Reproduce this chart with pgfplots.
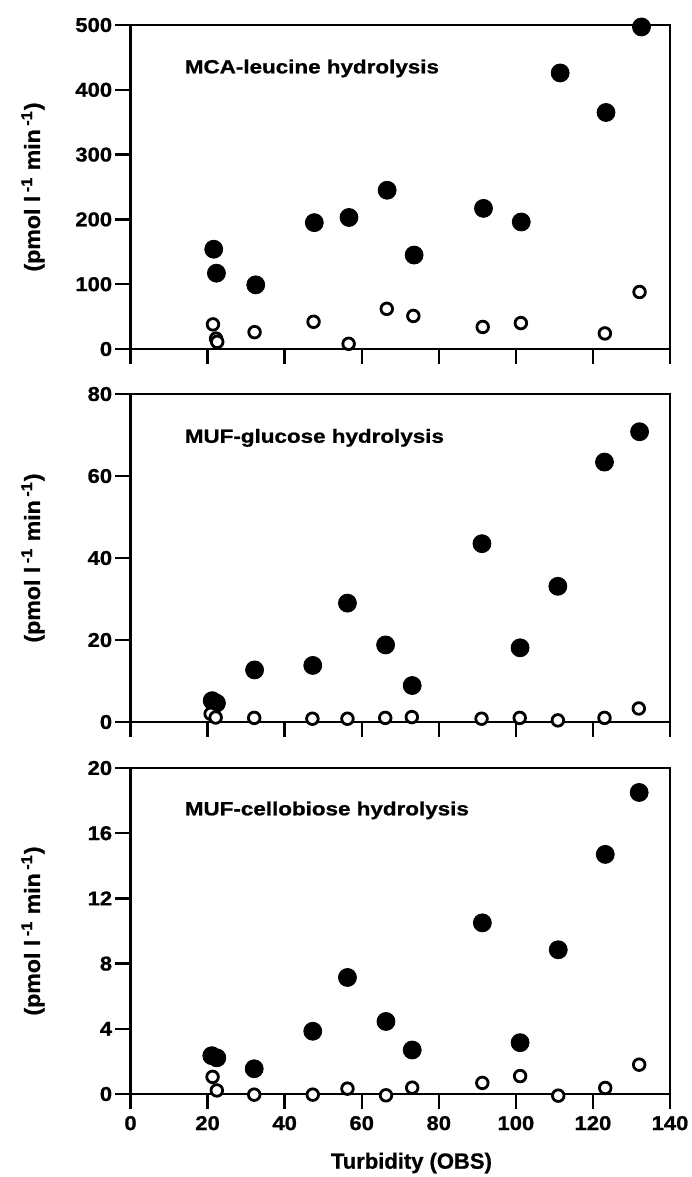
\documentclass[border=0pt]{standalone}
\usepackage{fontspec}
\setmainfont{Liberation Sans}
\newfontfamily\titlefont[FakeStretch=1.18,FakeBold=1]{Liberation Sans Bold}
\newfontfamily\tickfont[FakeStretch=1.1,FakeBold=1]{Liberation Sans Bold}
\newfontfamily\ylabfont[FakeStretch=1.05,FakeBold=0.8]{Liberation Sans Bold}
\newfontfamily\xlabfont[FakeBold=0.8]{Liberation Sans Bold}
\usepackage{pgfplots}
\pgfplotsset{compat=1.18}

\pgfplotstableread{
x y
21.6 154
22.3 117
32.5 99
47.7 195
56.7 203
66.6 245
73.6 145
91.6 217
101.4 196
111.5 426
123.4 365
132.6 497
}\leuF
\pgfplotstableread{
x y
21.4 38
22.2 16
22.5 11
32.2 26
47.5 42
56.6 8
66.5 62
73.4 51
91.4 34
101.3 40
123.1 24
132.1 88
}\leuO
\pgfplotstableread{
x y
21.2 5.2
22.3 4.6
32.2 12.7
47.3 13.8
56.3 29.0
66.2 18.8
73.1 8.9
91.2 43.5
101.1 18.1
110.9 33.1
123.0 63.4
132.1 70.8
}\gluF
\pgfplotstableread{
x y
20.8 2.0
22.1 1.1
32.1 1.0
47.2 0.8
56.3 0.8
66.1 1.0
73.0 1.2
91.1 0.8
101.0 1.0
110.9 0.4
123.0 1.0
131.9 3.3
}\gluO
\pgfplotstableread{
x y
21.1 2.35
22.4 2.22
32.1 1.55
47.3 3.85
56.3 7.15
66.3 4.45
73.1 2.70
91.3 10.5
101.1 3.15
111.0 8.85
123.2 14.7
132.0 18.5
}\celF
\pgfplotstableread{
x y
21.3 1.05
22.4 0.22
32.1 -0.04
47.3 -0.04
56.3 0.33
66.3 -0.08
73.1 0.39
91.3 0.68
101.1 1.10
111.0 -0.10
123.2 0.37
132.0 1.80
}\celO

\tikzset{ttl/.style={anchor=west, inner sep=0pt, font=\titlefont\fontsize{9.5}{11}\selectfont}}
\pgfplotsset{
  panel/.style={
    scale only axis, width=269.75pt, anchor=south west,
    xmin=0, xmax=140, xtick={0,20,...,140},
    axis line style={line width=1.2pt},
    every tick/.style={line width=1.2pt, black},
    major tick length=7.5pt,
    tick align=outside,
    xtick pos=left, ytick pos=left,
    clip=false,
    ticklabel style={font=\tickfont\fontsize{10}{12}\selectfont},
    yticklabel style={inner xsep=1.5pt},
    /pgf/number format/assume math mode=true,
    scaled y ticks=false,
    y label style={at={(axis description cs:0,0.5)}, anchor=center, yshift=48.75pt,
      font=\ylabfont\fontsize{11}{13}\selectfont},
    ylabel={(pmol l\,\textsuperscript{-1} min\,\textsuperscript{-1})},
  },
  filled/.style={only marks, mark=*, mark size=4.5pt, mark options={fill=black, draw=black, line width=0.4pt}},
  open/.style={only marks, mark=*, mark size=2.9pt, mark options={fill=white, draw=black, line width=1.4pt}},
}

\begin{document}
\begin{tikzpicture}
\useasboundingbox (-65.25pt,-414pt) rectangle (280.25pt,174.5pt);

\begin{axis}[panel, at={(0,0)}, height=162pt,
  ymin=0, ymax=500, ytick={0,100,...,500}, xticklabels={}]
  \addplot[filled] table {\leuF};
  \addplot[open] table {\leuO};
  \node[ttl] at (axis cs:14,433) {MCA-leucine hydrolysis};
\end{axis}

\begin{axis}[panel, at={(0,-186.5pt)}, height=164pt,
  ymin=0, ymax=80, ytick={0,20,...,80}, xticklabels={}]
  \addplot[filled] table {\gluF};
  \addplot[open] table {\gluO};
  \node[ttl] at (axis cs:14,69.3) {MUF-glucose hydrolysis};
\end{axis}

\begin{axis}[panel, at={(0,-372.5pt)}, height=163pt,
  ymin=0, ymax=20, ytick={0,4,...,20},
  xlabel={Turbidity (OBS)},
  x label style={at={(axis description cs:0.5,0)}, anchor=center, yshift=-34.5pt, xshift=5.6pt,
    font=\xlabfont\fontsize{11}{13}\selectfont}]
  \addplot[filled] table {\celF};
  \addplot[open] table {\celO};
  \node[ttl] at (axis cs:14,17.4) {MUF-cellobiose hydrolysis};
\end{axis}
\end{tikzpicture}
\end{document}
